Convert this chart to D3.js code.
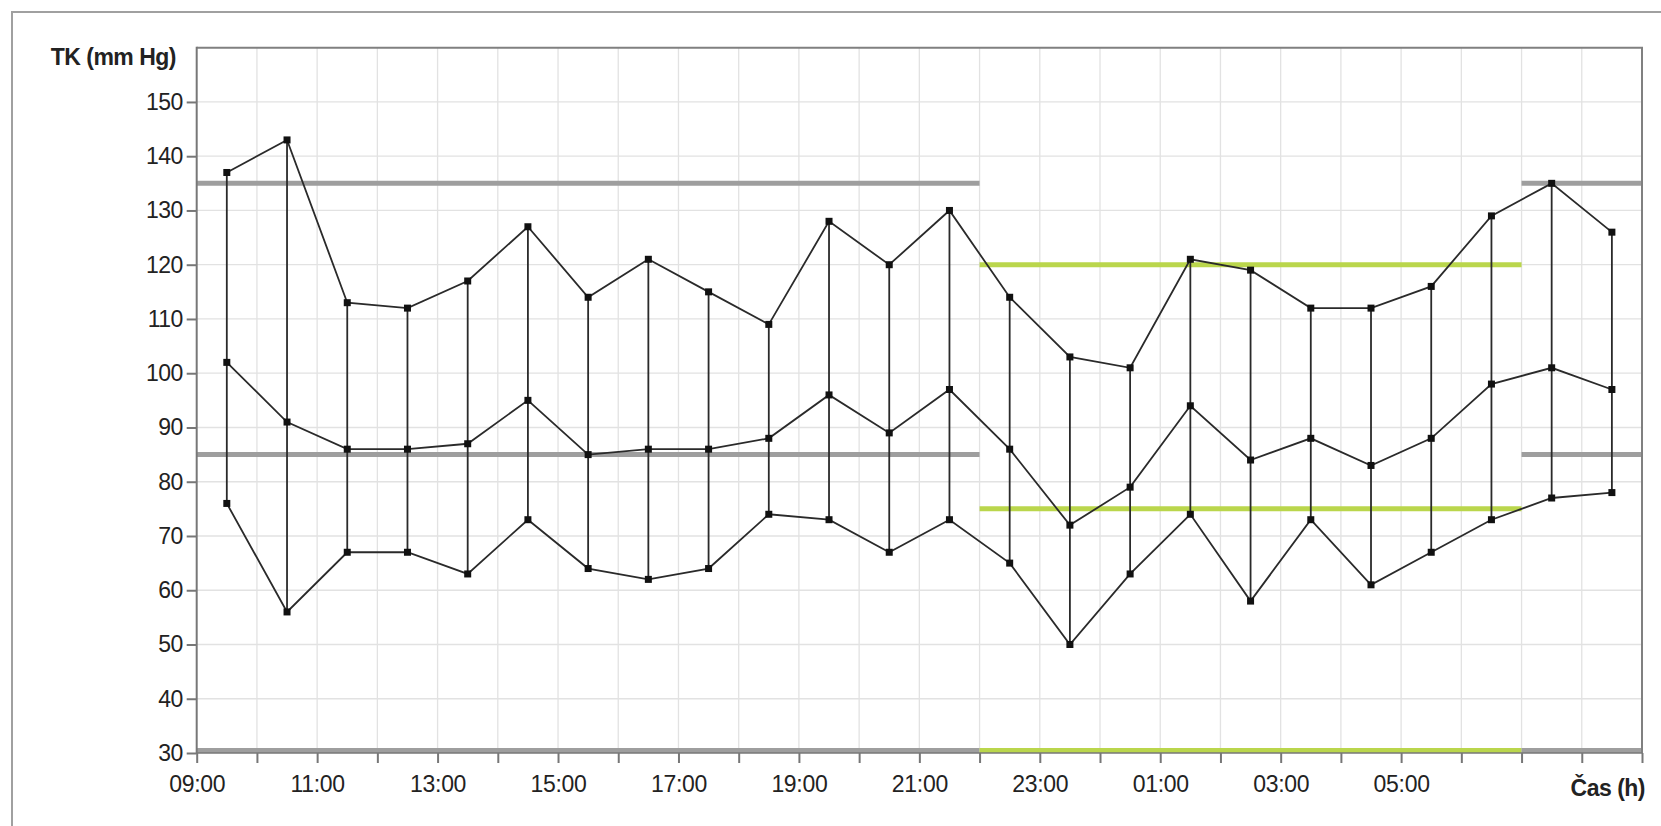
<!DOCTYPE html>
<html>
<head>
<meta charset="utf-8">
<script src="https://cdn.jsdelivr.net/npm/d3@7"></script>
<style>
  body { margin: 0; background: #fff; }
  svg { display: block; }
  text { font-family: "Liberation Sans", Arial, Helvetica, sans-serif; fill: #222; }
</style>
</head>
<body>
<svg id="chart" width="1661" height="826"></svg>
<script>
// ---- data ----
const times = ["09:30","10:30","11:30","12:30","13:30","14:30","15:30","16:30","17:30","18:30","19:30","20:30",
               "21:30","22:30","23:30","00:30","01:30","02:30","03:30","04:30","05:30","06:30","07:30","08:30"];
const systolic  = [137,143,113,112,117,127,114,121,115,109,128,120,130,114,103,101,121,119,112,112,116,129,135,126];
const meanBP    = [102, 91, 86, 86, 87, 95, 85, 86, 86, 88, 96, 89, 97, 86, 72, 79, 94, 84, 88, 83, 88, 98,101, 97];
const diastolic = [ 76, 56, 67, 67, 63, 73, 64, 62, 64, 74, 73, 67, 73, 65, 50, 63, 74, 58, 73, 61, 67, 73, 77, 78];

const yTickValues = [30,40,50,60,70,80,90,100,110,120,130,140,150];
const xLabelTimes = ["09:00","11:00","13:00","15:00","17:00","19:00","21:00","23:00","01:00","03:00","05:00"];
const yTitle = "TK (mm Hg)";
const xTitle = "Čas (h)";

// limit periods (day / night)
const periodStart = ["09:00","22:00","07:00"];
const periodEnd   = ["22:00","07:00","09:00"];
const periodSys   = [135,120,135];
const periodDia   = [85,75,85];
const periodKind  = ["day","night","day"];

// ---- helpers ----
function toHours(s, isEnd) {
  const [h, m] = s.split(":").map(Number);
  let v = (((h + m / 60 - 9) % 24) + 24) % 24;
  if (isEnd && v === 0) v = 24;
  return v;
}

const svg = d3.select("#chart");
const pLeft = 196.7, pRight = 1642, pTop = 47.7, pBottom = 753;

const x = d3.scaleLinear().domain([0, 24]).range([pLeft, pRight]);
const y = d3.scaleLinear().domain([30, 160]).range([pBottom, pTop]);

const kindColor = { day: "#9e9e9e", night: "#bad64c" };

// outer frame
svg.append("path")
  .attr("d", "M12,830V12H1665")
  .attr("fill", "none").attr("stroke", "#a0a0a0").attr("stroke-width", 2);

// grid
const grid = svg.append("g");
grid.selectAll("line.h").data(d3.range(40, 160, 10)).join("line")
  .attr("x1", pLeft).attr("x2", pRight)
  .attr("y1", d => y(d)).attr("y2", d => y(d))
  .attr("stroke", "#e2e2e2").attr("stroke-width", 1.3);
grid.selectAll("line.v").data(d3.range(1, 24)).join("line")
  .attr("x1", d => x(d)).attr("x2", d => x(d))
  .attr("y1", pTop).attr("y2", pBottom)
  .attr("stroke", "#e2e2e2").attr("stroke-width", 1.3);

// limit lines
const periods = periodStart.map((s, i) => ({
  x0: toHours(s, false), x1: toHours(periodEnd[i], true),
  sys: periodSys[i], dia: periodDia[i], kind: periodKind[i]
}));
const lim = svg.append("g");
periods.forEach(p => {
  [p.sys, p.dia].forEach(v => {
    lim.append("line")
      .attr("x1", x(p.x0)).attr("x2", x(p.x1))
      .attr("y1", y(v)).attr("y2", y(v))
      .attr("stroke", kindColor[p.kind]).attr("stroke-width", 5);
  });
  lim.append("line")
    .attr("x1", x(p.x0)).attr("x2", x(p.x1))
    .attr("y1", y(30) - 2.5).attr("y2", y(30) - 2.5)
    .attr("stroke", kindColor[p.kind]).attr("stroke-width", 5);
});

// frame top & right
svg.append("path")
  .attr("d", `M${pLeft},${pTop}H${pRight}V${pBottom}`)
  .attr("fill", "none").attr("stroke", "#808080").attr("stroke-width", 2);

// data
const pts = times.map((t, i) => ({ h: toHours(t, false), s: systolic[i], m: meanBP[i], d: diastolic[i] }));
const dataG = svg.append("g");

dataG.selectAll("line.vc").data(pts).join("line")
  .attr("x1", d => x(d.h)).attr("x2", d => x(d.h))
  .attr("y1", d => y(d.s)).attr("y2", d => y(d.d))
  .attr("stroke", "#2a2a2a").attr("stroke-width", 1.8);

const lineGen = key => d3.line().x(d => x(d.h)).y(d => y(d[key]));
["s", "m", "d"].forEach(k => {
  dataG.append("path").datum(pts)
    .attr("d", lineGen(k))
    .attr("fill", "none").attr("stroke", "#2a2a2a").attr("stroke-width", 1.8);
});
["s", "m", "d"].forEach(k => {
  dataG.append("g").selectAll("rect").data(pts).join("rect")
    .attr("x", d => x(d.h) - 3.5).attr("y", d => y(d[k]) - 3.5)
    .attr("width", 7).attr("height", 7)
    .attr("fill", "#111");
});

// y axis
const yAxis = d3.axisLeft(y).tickValues(yTickValues).tickSize(10).tickPadding(4);
const yg = svg.append("g").attr("transform", `translate(${pLeft},0)`).call(yAxis);
yg.select(".domain").remove();
yg.selectAll(".tick line").attr("stroke", "#777").attr("stroke-width", 2);
yg.selectAll(".tick text").attr("font-size", 23).attr("fill", "#222").style("letter-spacing", "-0.6px");
svg.append("line")
  .attr("x1", pLeft).attr("x2", pLeft).attr("y1", pTop - 1).attr("y2", pBottom + 1)
  .attr("stroke", "#777").attr("stroke-width", 2);

// x axis
const xLabelHours = xLabelTimes.map(t => toHours(t, false));
const xAxis = d3.axisBottom(x).tickValues(d3.range(0, 25)).tickSize(10).tickPadding(13)
  .tickFormat(h => {
    const i = xLabelHours.indexOf(h);
    return i >= 0 && h < 24 ? xLabelTimes[i] : "";
  });
const xg = svg.append("g").attr("transform", `translate(0,${pBottom})`).call(xAxis);
xg.select(".domain").remove();
xg.selectAll(".tick line").attr("stroke", "#777").attr("stroke-width", 2);
xg.selectAll(".tick text").attr("font-size", 23).attr("fill", "#222").style("letter-spacing", "-0.3px");
svg.append("line")
  .attr("x1", pLeft).attr("x2", pRight).attr("y1", pBottom).attr("y2", pBottom)
  .attr("stroke", "#777").attr("stroke-width", 1.5);

// titles
svg.append("text")
  .attr("x", 176).attr("y", 65)
  .attr("text-anchor", "end").attr("font-size", 23).attr("font-weight", "bold")
  .style("letter-spacing", "-0.5px")
  .text(yTitle);
svg.append("text")
  .attr("x", 1645).attr("y", 796)
  .attr("text-anchor", "end").attr("font-size", 23).attr("font-weight", "bold")
  .style("letter-spacing", "-0.5px")
  .text(xTitle);
</script>
</body>
</html>
